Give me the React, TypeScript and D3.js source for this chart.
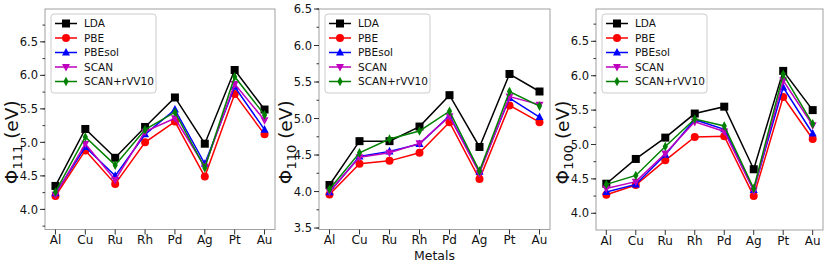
import React from "react";
import * as d3 from "d3";

const metals = ["Al", "Cu", "Ru", "Rh", "Pd", "Ag", "Pt", "Au"];
const methods = ["LDA", "PBE", "PBEsol", "SCAN", "SCAN+rVV10"];
const colors = ["#000000", "#ff0000", "#0000ff", "#bf00bf", "#008000"];
const shapes = ["square", "circle", "triangle", "triangleDown", "diamond"];

// work function per facet, one row per method (same order as methods)
const phi111 = [
  [4.35, 5.2, 4.77, 5.23, 5.67, 4.98, 6.08, 5.49],
  [4.2, 4.88, 4.38, 5.0, 5.31, 4.49, 5.72, 5.12],
  [4.24, 4.93, 4.5, 5.12, 5.49, 4.68, 5.83, 5.19],
  [4.22, 4.98, 4.44, 5.16, 5.36, 4.64, 5.87, 5.33],
  [4.26, 5.08, 4.66, 5.19, 5.45, 4.62, 5.98, 5.41],
];
const phi110 = [
  [4.09, 4.69, 4.69, 4.89, 5.32, 4.61, 5.61, 5.37],
  [3.96, 4.38, 4.42, 4.53, 4.95, 4.17, 5.18, 4.95],
  [3.99, 4.48, 4.55, 4.65, 5.04, 4.27, 5.28, 5.02],
  [4.0, 4.47, 4.53, 4.66, 5.03, 4.25, 5.3, 5.19],
  [4.03, 4.53, 4.72, 4.83, 5.1, 4.28, 5.37, 5.17],
];
const phi100 = [
  [4.43, 4.79, 5.1, 5.45, 5.55, 4.64, 6.07, 5.5],
  [4.27, 4.41, 4.77, 5.11, 5.12, 4.25, 5.69, 5.08],
  [4.31, 4.42, 4.85, 5.36, 5.22, 4.34, 5.83, 5.16],
  [4.36, 4.46, 4.87, 5.33, 5.19, 4.33, 5.93, 5.28],
  [4.42, 4.55, 4.97, 5.37, 5.27, 4.36, 6.02, 5.3],
];

const panels = [
  { sub: "111", data: phi111, left: 45, right: 275, top: 9, bottom: 229.5, yDomain: [3.7, 6.99], ticks: [4.0, 4.5, 5.0, 5.5, 6.0, 6.5] },
  { sub: "110", data: phi110, left: 319, right: 550, top: 9, bottom: 229.5, yDomain: [3.48, 6.5], ticks: [3.5, 4.0, 4.5, 5.0, 5.5, 6.0, 6.5] },
  { sub: "100", data: phi100, left: 596, right: 823, top: 9, bottom: 230, yDomain: [3.757, 6.97], ticks: [4.0, 4.5, 5.0, 5.5, 6.0, 6.5] },
];

const font = "DejaVu Sans, sans-serif";

function Marker({ shape, x, y, color, s = 4 }) {
  if (shape === "square") return <rect x={x - s} y={y - s} width={2 * s} height={2 * s} fill={color} />;
  if (shape === "circle") return <circle cx={x} cy={y} r={s} fill={color} />;
  if (shape === "triangle")
    return <path d={`M${x},${y - s * 1.15}L${x + s},${y + s * 0.75}L${x - s},${y + s * 0.75}Z`} fill={color} />;
  if (shape === "triangleDown")
    return <path d={`M${x},${y + s * 1.15}L${x + s},${y - s * 0.75}L${x - s},${y - s * 0.75}Z`} fill={color} />;
  return <path d={`M${x},${y - s * 1.2}L${x + s * 0.65},${y}L${x},${y + s * 1.2}L${x - s * 0.65},${y}Z`} fill={color} />;
}

function Panel({ p, showXLabel }) {
  const x = d3
    .scalePoint()
    .domain(metals)
    .range([p.left, p.right])
    .padding(0.35);
  const y = d3.scaleLinear().domain(p.yDomain).range([p.bottom, p.top]);
  const minor = d3.range(3.25, 7.01, 0.25).filter((v) => v >= p.yDomain[0] - 1e-6 && v <= p.yDomain[1] + 1e-6);
  const line = d3
    .line<number>()
    .x((_, i) => x(metals[i]))
    .y((d) => y(d));
  const lx = p.left + 6;
  const ly = p.top + 5;
  const cy = (p.top + p.bottom) / 2 + 23;
  return (
    <g>
      {p.data.map((row, k) => (
        <g key={k}>
          <path d={line(row)} fill="none" stroke={colors[k]} strokeWidth={1.5} />
          {row.map((v, i) => (
            <Marker key={i} shape={shapes[k]} x={x(metals[i])} y={y(v)} color={colors[k]} />
          ))}
        </g>
      ))}
      <rect x={p.left} y={p.top} width={p.right - p.left} height={p.bottom - p.top} fill="none" stroke="#a0a0a0" strokeWidth={1} />
      {minor.map((v) => (
        <line key={v} x1={p.left - 2.5} x2={p.left} y1={y(v)} y2={y(v)} stroke="#333" />
      ))}
      {p.ticks.map((v) => (
        <g key={v}>
          <line x1={p.left - 5} x2={p.left} y1={y(v)} y2={y(v)} stroke="#333" />
          <text x={p.left - 7} y={y(v)} dy="0.36em" textAnchor="end" fontSize={11.5} fontFamily={font} fill="#111">
            {v.toFixed(1)}
          </text>
        </g>
      ))}
      {metals.map((m) => (
        <g key={m}>
          <line x1={x(m)} x2={x(m)} y1={p.bottom} y2={p.bottom + 5} stroke="#333" />
          <text x={x(m)} y={p.bottom + 14.5} textAnchor="middle" fontSize={12} fontFamily={font} fill="#111">
            {m}
          </text>
        </g>
      ))}
      <text
        transform={`translate(${p.left - 27},${cy}) rotate(-90)`}
        textAnchor="middle"
        fontSize={18.5}
        fontFamily={font}
        fill="#111"
      >
        Φ<tspan fontSize={13} dy={4}>{p.sub}</tspan>
        <tspan dy={-4}> (eV)</tspan>
      </text>
      {showXLabel && (
        <text x={(p.left + p.right) / 2} y={260} textAnchor="middle" fontSize={12.5} fontFamily={font} fill="#111">
          Metals
        </text>
      )}
      <rect x={lx} y={ly} width={105} height={79} rx={3} fill="#fff" fillOpacity={0.8} stroke="#cccccc" />
      {methods.map((name, k) => {
        const yy = ly + 9.5 + k * 14.5;
        return (
          <g key={name}>
            <line x1={lx + 4} x2={lx + 26} y1={yy} y2={yy} stroke={colors[k]} strokeWidth={1.5} />
            <Marker shape={shapes[k]} x={lx + 15} y={yy} color={colors[k]} />
            <text x={lx + 33} y={yy} dy="0.36em" fontSize={10.5} fontFamily={font} fill="#111">
              {name}
            </text>
          </g>
        );
      })}
    </g>
  );
}

export default function App() {
  return (
    <svg width={831} height={264} style={{ position: "absolute", left: 0, top: 0, background: "#fff" }}>
      {panels.map((p, i) => (
        <Panel key={i} p={p} showXLabel={i === 1} />
      ))}
    </svg>
  );
}
